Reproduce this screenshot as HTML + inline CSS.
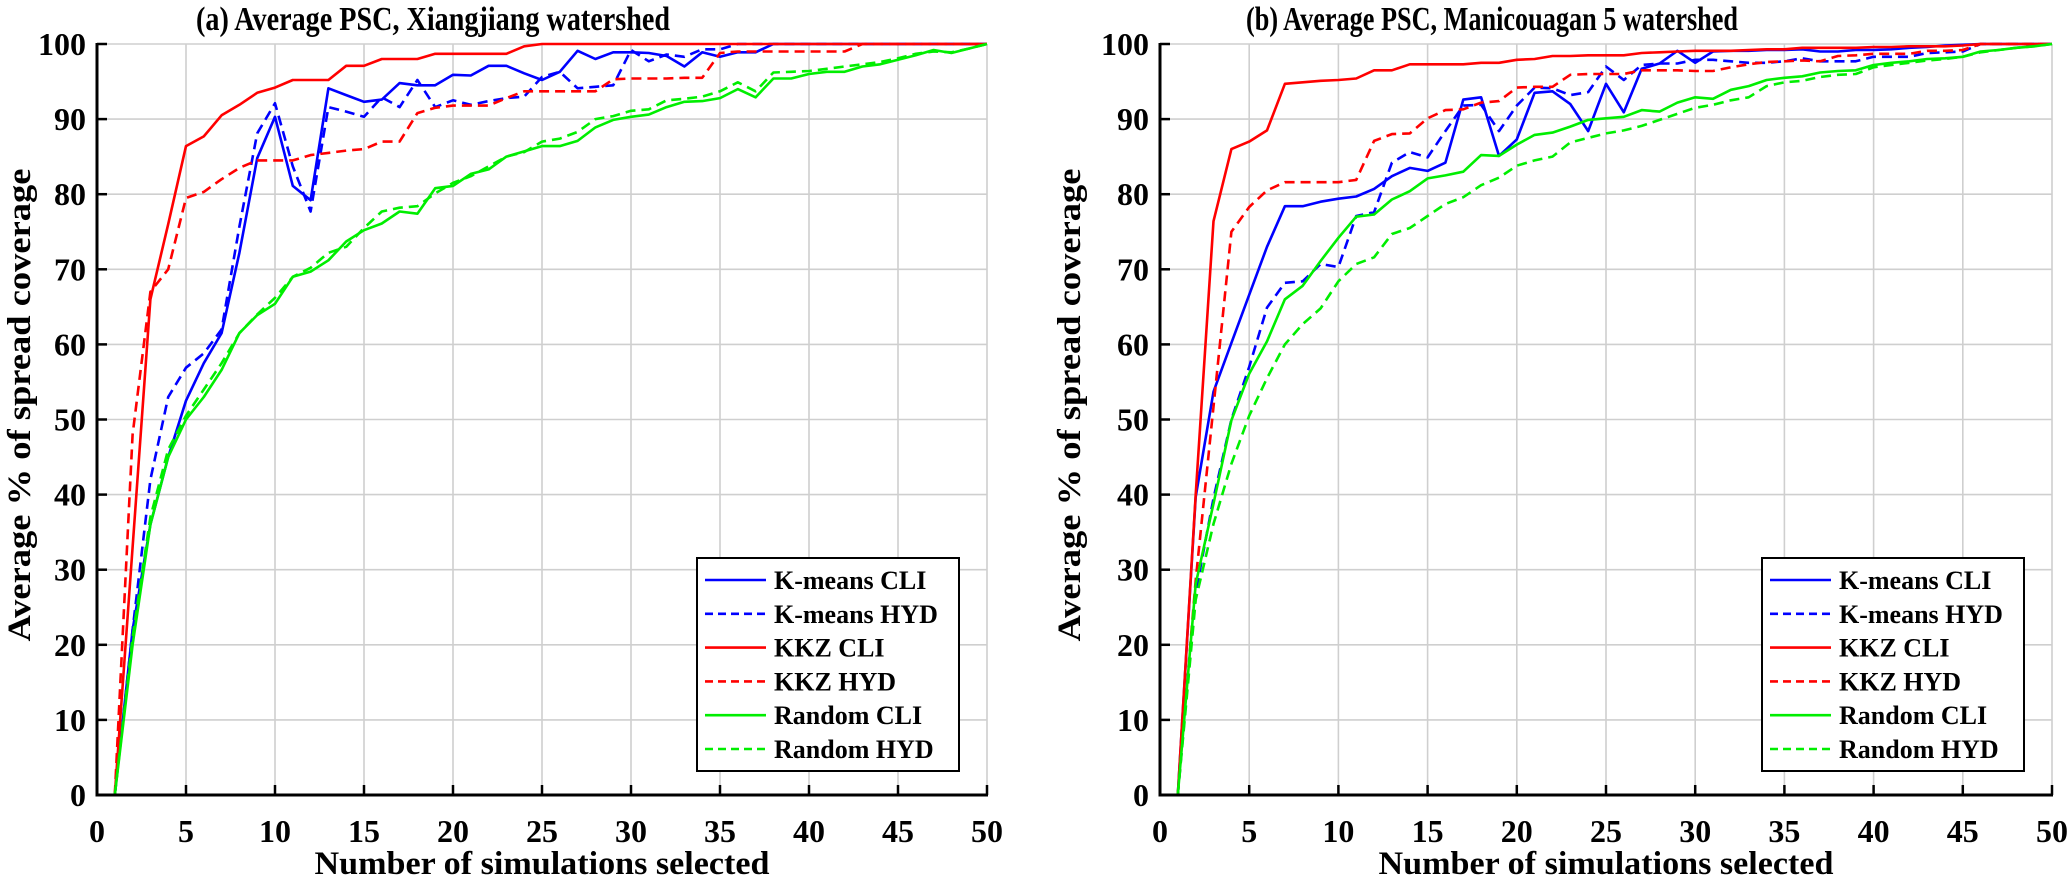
<!DOCTYPE html>
<html><head><meta charset="utf-8"><style>
html,body{margin:0;padding:0;background:#fff;}
svg{display:block;font-family:"Liberation Serif",serif;font-weight:bold;}
</style></head><body>
<svg id="fig" width="2067" height="877" viewBox="0 0 2067 877" xmlns="http://www.w3.org/2000/svg"></svg>
<script>
const xTicks = [0,5,10,15,20,25,30,35,40,45,50];
const yTicks = [0,10,20,30,40,50,60,70,80,90,100];
const seriesNames = ["K-means CLI","K-means HYD","KKZ CLI","KKZ HYD","Random CLI","Random HYD"];
const seriesColors = ["#0000ff","#0000ff","#ff0000","#ff0000","#00ee00","#00ee00"];
const seriesDashed = [false,true,false,true,false,true];
const xValues = Array.from({length:50},(_, i)=>i+1);

const aKmeansCli = [0,22,36,45,52.5,57.5,61.5,72.2,84.8,90.3,81.1,79.2,94.1,93.2,92.3,92.6,94.8,94.5,94.5,95.9,95.8,97.1,97.1,96.1,95.2,96.3,99.1,98,98.9,98.9,98.8,98.4,97,98.9,98.3,98.9,98.9,100,100,100,100,100,100,100,100,100,100,100,100,100];
const aKmeansHyd = [0,22,42,53,56.9,58.8,62,75.7,88.1,92.1,83.7,77.7,91.6,91,90.3,92.9,91.6,95.2,91.6,92.5,91.9,92.4,92.8,93,95.6,96.3,94.1,94.3,94.5,99.2,97.7,98.6,98.3,99.3,99.3,100,100,100,100,100,100,100,100,100,100,100,100,100,100,100];
const aKkzCli = [0,33,66,76,86.4,87.7,90.5,91.9,93.5,94.2,95.2,95.2,95.2,97.1,97.1,98,98,98,98.7,98.7,98.7,98.7,98.7,99.7,100,100,100,100,100,100,100,100,100,100,100,100,100,100,100,100,100,100,100,100,100,100,100,100,100,100];
const aKkzHyd = [0,48,67,70,79.5,80.3,82,83.5,84.5,84.5,84.5,85.2,85.5,85.8,86,87,87,90.8,91.5,91.8,91.8,91.8,92.8,93.7,93.7,93.7,93.7,93.7,95.3,95.4,95.4,95.4,95.5,95.5,98.8,99,99,99,99,99,99,99,100,100,100,100,100,100,100,100];
const aRandomCli = [0,20,36,45,50,53,56.6,61.5,63.9,65.4,69,69.7,71.2,73.7,75.2,76.1,77.7,77.4,80.8,81.1,82.7,83.3,85,85.7,86.4,86.4,87.1,88.9,89.9,90.3,90.6,91.6,92.3,92.4,92.8,94,92.9,95.4,95.4,96,96.3,96.3,97,97.3,97.9,98.5,99.2,98.8,99.4,100];
const aRandomHyd = [0,21,37,46,50.5,54,57.5,61.5,64,66.2,69,70.2,72.2,73,75.5,77.7,78.2,78.4,80.1,81.5,82.4,83.7,85,85.6,87,87.4,88.3,90,90.4,91.1,91.3,92.5,92.7,93,93.7,94.9,93.7,96.2,96.3,96.4,96.7,97,97.3,97.6,98.1,98.7,99,98.9,99.4,100];

const bKmeansCli = [0,39.7,53.7,60.2,66.6,73,78.4,78.4,79,79.4,79.7,80.7,82.4,83.5,83.1,84.2,92.6,92.9,85.1,87.3,93.5,93.7,92,88.4,94.7,90.9,96.7,97.4,99.1,97.5,99,99.1,99.1,99.2,99.2,99.3,99,99,99.2,99.2,99.3,99.5,99.6,99.8,99.9,100,100,100,100,100];
const bKmeansHyd = [0,27,39.5,50,57,64.9,68.2,68.4,70.7,70.3,77.1,77.6,84.2,85.6,84.9,88.4,91.8,91.9,88.4,91.8,94.2,94.1,93.2,93.6,97,95.2,97.2,97.4,97.4,97.9,97.9,97.7,97.5,97.5,97.7,98.1,97.7,97.7,97.7,98.3,98.3,98.3,98.8,98.9,99,100,100,100,100,100];
const bKkzCli = [0,40,76.4,86,87,88.5,94.7,94.9,95.1,95.2,95.4,96.5,96.5,97.3,97.3,97.3,97.3,97.5,97.5,97.9,98,98.4,98.4,98.5,98.5,98.5,98.8,98.9,99,99.1,99.1,99.1,99.2,99.3,99.3,99.5,99.5,99.5,99.5,99.6,99.6,99.7,99.7,99.7,99.8,100,100,100,100,100];
const bKkzHyd = [0,28.6,51.7,75,78.3,80.5,81.6,81.6,81.6,81.6,81.9,87.1,88,88.1,90.1,91.2,91.3,92.2,92.4,94.2,94.3,94.3,95.9,96,96,96,96.5,96.5,96.5,96.4,96.4,96.9,97.3,97.6,97.7,97.8,97.7,98.4,98.5,98.7,98.7,98.7,99.1,99.1,99.2,100,100,100,100,100];
const bRandomCli = [0,28.1,38.8,49.9,56.1,60.4,66,67.8,71.1,74.2,77,77.3,79.3,80.4,82.1,82.5,83,85.2,85.1,86.6,87.9,88.2,89,89.9,90.1,90.3,91.2,91,92.2,92.9,92.7,93.9,94.4,95.2,95.5,95.7,96.2,96.4,96.5,97.2,97.5,97.7,98,98.1,98.3,99,99.2,99.5,99.7,100];
const bRandomHyd = [0,26,36.1,44.1,50.5,55.5,60,62.7,64.8,68.4,70.7,71.6,74.7,75.5,77.1,78.7,79.6,81.2,82.2,83.8,84.5,85,86.9,87.5,88.1,88.5,89.1,89.9,90.7,91.5,91.9,92.5,92.9,94.4,94.9,95.1,95.6,95.9,96,96.9,97.2,97.5,97.8,98,98.3,98.9,99.2,99.5,99.7,100];

const NS="http://www.w3.org/2000/svg";
const svg=document.getElementById('fig');
function mk(tag,attrs,parent,text){const e=document.createElementNS(NS,tag);for(const k in attrs)e.setAttribute(k,attrs[k]);if(text!==undefined)e.textContent=text;(parent||svg).appendChild(e);return e;}

function drawPanel(id,x0,x1,title,titleX,titleLen,ytitleX,series){
  const y0=795,y1=44;
  const sx=v=>x0+(v-0)/(50-0)*(x1-x0);
  const sy=v=>y0-(v-0)/(100-0)*(y0-y1);
  const g=mk('g',{});
  
  
  const grid=mk('g',{},g);
  
  
  xTicks.forEach(t=>{if(t>0)mk('line',{x1:sx(t),x2:sx(t),y1:y1,y2:y0,stroke:'#cfcfcf','stroke-width':1.6},grid);});
  yTicks.forEach(t=>{if(t>0)mk('line',{x1:x0,x2:x1,y1:sy(t),y2:sy(t),stroke:'#cfcfcf','stroke-width':1.6},grid);});
  series.forEach((vals,i)=>{
    const pts=vals.map((v,j)=>sx(xValues[j]).toFixed(1)+','+sy(v).toFixed(1)).join(' ');
    const pl=mk('polyline',{points:pts,fill:'none',stroke:seriesColors[i],'stroke-width':2.6,'stroke-linejoin':'round','stroke-dasharray':seriesDashed[i]?'10,6':'none'},g);
    
    
  });
  const ax=mk('g',{},g);
  
  
  mk('line',{x1:x0,x2:x0,y1:y1-1,y2:y0+1.5,stroke:'#000','stroke-width':3},ax);
  mk('line',{x1:x0-1.5,x2:x1+1,y1:y0,y2:y0,stroke:'#000','stroke-width':3},ax);
  xTicks.forEach(t=>{
    mk('line',{x1:sx(t),x2:sx(t),y1:y0,y2:y0-10,stroke:'#000','stroke-width':2.5},ax);
    const tl=mk('text',{x:sx(t),y:842,'text-anchor':'middle','font-size':32},ax,String(t));
    
    
  });
  yTicks.forEach(t=>{
    mk('line',{x1:x0,x2:x0+10,y1:sy(t),y2:sy(t),stroke:'#000','stroke-width':2.5},ax);
    const tl=mk('text',{x:x0-11,y:sy(t)+11,'text-anchor':'end','font-size':32},ax,String(t));
    
    
  });
  const tt=mk('text',{x:titleX,y:30,'font-size':34,textLength:titleLen,lengthAdjust:'spacingAndGlyphs'},g,title);
  
  
  const xt=mk('text',{x:(x0+x1)/2,y:874,'text-anchor':'middle','font-size':33,textLength:455,lengthAdjust:'spacingAndGlyphs'},g,'Number of simulations selected');
  
  
  const yt=mk('text',{x:0,y:0,'text-anchor':'middle','font-size':33,textLength:473,lengthAdjust:'spacingAndGlyphs',transform:`translate(${ytitleX},405) rotate(-90)`},g,'Average % of spread coverage');
  
  
  const lx=x1-28-262, ly=558;
  const lg=mk('g',{},g);
  
  
  mk('rect',{x:lx,y:ly,width:262,height:213,fill:'#fff',stroke:'#000','stroke-width':2},lg);
  seriesNames.forEach((n,i)=>{
    const cy=ly+22+i*33.8;
    const e=mk('g',{},lg);
    
    
    mk('line',{x1:lx+8,x2:lx+69,y1:cy,y2:cy,stroke:seriesColors[i],'stroke-width':2.6,'stroke-dasharray':seriesDashed[i]?'8,5':'none'},e);
    mk('text',{x:lx+77,y:cy+9,'font-size':26},e,n);
  });
}
drawPanel('panel-a',97,987,'(a)   Average PSC, Xiangjiang watershed',196,474,30,[aKmeansCli,aKmeansHyd,aKkzCli,aKkzHyd,aRandomCli,aRandomHyd]);
drawPanel('panel-b',1160,2052,'(b)   Average PSC, Manicouagan 5 watershed',1246,492,1080,[bKmeansCli,bKmeansHyd,bKkzCli,bKkzHyd,bRandomCli,bRandomHyd]);
</script>
</body></html>
